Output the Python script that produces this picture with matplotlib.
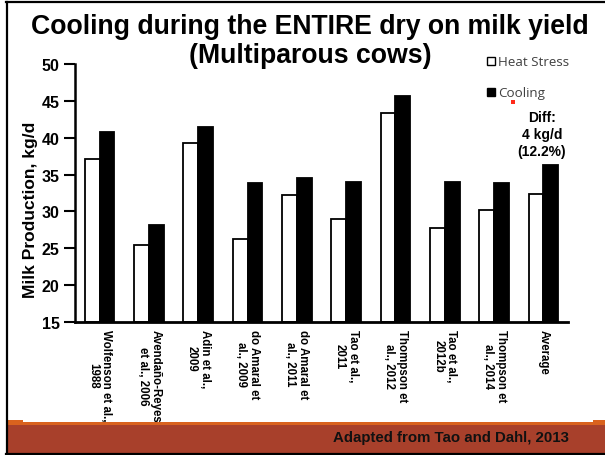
import numpy as np
import matplotlib
matplotlib.use('Agg')
import matplotlib.pyplot as plt
from matplotlib.patches import Rectangle
from matplotlib.lines import Line2D

studies = ['Wolfenson et al.,\n1988', 'Avendaño-Reyes\net al., 2006', 'Adin et al.,\n2009',
           'do Amaral et\nal., 2009', 'do Amaral et\nal., 2011', 'Tao et al.,\n2011',
           'Thompson et\nal., 2012', 'Tao et al.,\n2012b', 'Thompson et\nal., 2014', 'Average']
heat_stress = [37.1, 25.4, 39.3, 26.2, 32.2, 29.0, 43.3, 27.7, 30.2, 32.3]
cooling = [40.8, 28.2, 41.5, 33.8, 34.6, 34.0, 45.7, 34.0, 33.8, 36.3]

W, H = 605, 456
fig = plt.figure(figsize=(6.05, 4.56), dpi=100)
plt.rcParams['font.family'] = ['Liberation Sans', 'DejaVu Sans']

# slide decorations
fig.add_artist(Rectangle((8 / W, 1 - 454 / H), (W - 8) / W, 28.5 / H, transform=fig.transFigure,
                         color='#A8402B', lw=0))
fig.add_artist(Rectangle((8 / W, 1 - 426 / H), (W - 8) / W, 3 / H, transform=fig.transFigure,
                         color='#D9621E', lw=0))
fig.add_artist(Rectangle((8 / W, 1 - 426 / H), 15 / W, 5.5 / H, transform=fig.transFigure,
                         color='#D9621E', lw=0))
fig.add_artist(Rectangle((593 / W, 1 - 426 / H), 12 / W, 5.5 / H, transform=fig.transFigure,
                         color='#D9621E', lw=0))
fig.add_artist(Line2D([6.5 / W, 6.5 / W], [1 - 455 / H, 1 - 3 / H], transform=fig.transFigure,
                      color='black', lw=1.6))
fig.add_artist(Line2D([6 / W, 1], [1 - 3 / H, 1 - 3 / H], transform=fig.transFigure,
                      color='black', lw=1.6))
fig.add_artist(Line2D([6 / W, 1], [1 - 455 / H, 1 - 455 / H], transform=fig.transFigure,
                      color='black', lw=1.6))

ax = fig.add_axes([75 / W, 1 - 323 / H, 493 / W, 258 / H])
x = np.arange(len(studies))
bw = 0.3
ax.bar(x - bw / 2, [v - 15 for v in heat_stress], bw, bottom=15, color='white', edgecolor='black',
       lw=1.3, label='Heat Stress')
ax.bar(x + bw / 2, [v - 15 for v in cooling], bw, bottom=15, color='black', edgecolor='black',
       lw=1.3, label='Cooling')

ax.set_xlim(-0.5, len(studies) - 0.5)
ax.set_ylim(15, 50)
ax.set_yticks(range(15, 51, 5))
ax.tick_params(axis='y', direction='out', length=8, width=1.5, labelsize=11.5, pad=3)
ax.tick_params(axis='x', length=0, pad=5)
for t in ax.get_yticklabels():
    t.set_fontweight('bold')
ax.set_xticks(x)
ax.set_xticklabels(studies, rotation=270, fontsize=8.3, fontweight='bold', ha='center', va='top',
                   multialignment='center', linespacing=1.1)
for s in ['top', 'right']:
    ax.spines[s].set_visible(False)
ax.spines['left'].set_linewidth(1.8)
ax.spines['bottom'].set_linewidth(2)
ax.set_ylabel('Milk Production, kg/d', fontsize=12.5, fontweight='bold', va='center')
ax.yaxis.set_label_coords(-0.091, 0.44)

fig.text(310 / W, 1 - 27 / H, 'Cooling during the ENTIRE dry on milk yield', ha='center', va='center',
         fontsize=19.2, fontweight='bold')
fig.text(310 / W, 1 - 56 / H, '(Multiparous cows)', ha='center', va='center',
         fontsize=19.2, fontweight='bold')

# legend
fig.add_artist(Rectangle((487 / W, 1 - 66 / H), 8 / W, 8 / H, transform=fig.transFigure,
                         facecolor='white', edgecolor='black', lw=1))
fig.text(498 / W, 1 - 62 / H, 'Heat Stress', fontsize=9.6, color='#404040', va='center', family='Open Sans')
fig.add_artist(Rectangle((487 / W, 1 - 97 / H), 8 / W, 8 / H, transform=fig.transFigure,
                         facecolor='black', edgecolor='black', lw=1))
fig.text(498 / W, 1 - 93 / H, 'Cooling', fontsize=9.6, color='#404040', va='center', family='Open Sans')
fig.add_artist(Rectangle((511 / W, 1 - 105 / H), 4 / W, 4 / H, transform=fig.transFigure,
                         color='#FF2A1A', lw=0))

fig.text(542 / W, 1 - 135 / H, 'Diff:\n4 kg/d\n(12.2%)', ha='center', va='center', fontsize=10,
         fontweight='bold', linespacing=1.3)

fig.text(569 / W, 1 - 438 / H, 'Adapted from Tao and Dahl, 2013', ha='right', va='center',
         fontsize=10.8, fontweight='bold', color='#111111')

fig.savefig('out.png', dpi=100)
